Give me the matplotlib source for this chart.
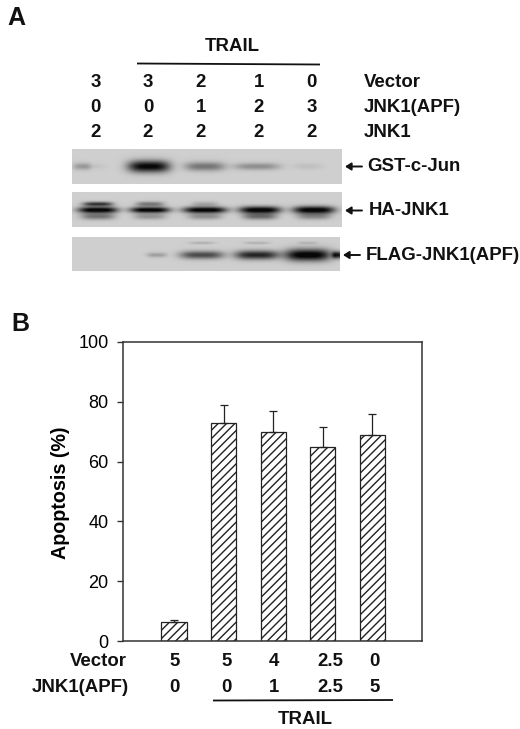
import numpy as np
import matplotlib
matplotlib.use("Agg")
import matplotlib.pyplot as plt

plt.rcParams['font.family'] = ['Liberation Sans', 'DejaVu Sans']
plt.rcParams['hatch.linewidth'] = 1.0

# panel B data
apoptosis = [6.5, 73, 70, 65, 69]
apoptosis_err = [0.5, 6, 7, 6.5, 7]
yticks = [0, 20, 40, 60, 80, 100]
vector_b = ['5', '5', '4', '2.5', '0']
apf_b = ['0', '0', '1', '2.5', '5']

# panel A data
vector_a = ['3', '3', '2', '1', '0']
apf_a = ['0', '0', '1', '2', '3']
jnk1_a = ['2', '2', '2', '2', '2']

# bands on each blot: lane centre, half width, offset from blot row, half height, darkness
gst_bands = [(82, 9, 0, 3.5, 0.22), (92, 14, 0, 3, 0.05), (149, 21, 0, 6, 0.95),
             (205, 20, 0, 4.5, 0.42), (257, 23, 0, 3.5, 0.30), (308, 15, 0, 3, 0.07)]
ha_bands = [(98, 15, -6, 2.2, 0.70), (98, 20, 0, 3.2, 1.0), (98, 17, 6.5, 3.2, 0.42),
            (150, 14, -6, 2.4, 0.40), (150, 20, 0, 3, 1.0), (150, 16, 6.5, 3, 0.28),
            (205, 13, -6, 2.4, 0.18), (205, 22, 0, 3.2, 1.0), (205, 17, 6.5, 3, 0.30),
            (260, 21, 0, 3.6, 1.0), (260, 17, 6.5, 3.2, 0.45),
            (314, 21, 0, 3.8, 1.0), (314, 17, 6.5, 3.2, 0.32)]
flag_bands = [(157, 10, 0, 2.4, 0.22), (202, 22, 0, 4, 0.62), (202, 13, -12, 1.4, 0.14),
              (257, 22, 0, 4.5, 0.80), (257, 13, -12, 1.4, 0.14),
              (308, 23, 0, 6, 1.0), (308, 10, -12, 1.4, 0.12), (338, 6, 0, 3.5, 0.8)]
blot_boxes = [(72, 342, 149, 184, 166.5), (72, 342, 192, 227, 210), (72, 340, 237, 271, 255)]
blots = [gst_bands, ha_bands, flag_bands]
blot_names = ['GST-c-Jun', 'HA-JNK1', 'FLAG-JNK1(APF)']


def blot_image(box, bands):
    x0, x1, y0, y1, row = box
    xs, ys = np.meshgrid(np.arange(x0, x1) + 0.5, np.arange(y0, y1) + 0.5)
    dark = np.zeros_like(xs)
    for cx, hw, off, hh, d in bands:
        dark += d * np.exp(-np.abs((xs - cx) / hw) ** 3.5 - ((ys - row - off) / hh) ** 2)
    return np.clip(0.81 - 0.84 * dark, 0.03, 1)


fig = plt.figure(figsize=(5.2, 7.29), dpi=100, facecolor='white')

# bar chart, placed by pixels
ax = fig.add_axes([123 / 520, 1 - 641 / 729, (422 - 123) / 520, (641 - 342) / 729])
x = np.arange(len(apoptosis))
ax.bar(x, apoptosis, width=0.51, facecolor='white', edgecolor='#222222', linewidth=0.9,
       hatch='////', yerr=[[0] * 5, apoptosis_err], capsize=3.2,
       error_kw={'ecolor': '#222222', 'elinewidth': 0.9, 'capthick': 0.9})
ax.set_xlim(-1.03, 5.0)
ax.set_ylim(0, 100)
ax.set_yticks(yticks)
ax.set_xticks([])
ax.tick_params(axis='y', length=4.3, width=1, pad=6, labelsize=13, color='#333333')
for s in ax.spines.values():
    s.set_color('#333333')
    s.set_linewidth(1.1)
ax.set_ylabel('Apoptosis (%)', fontsize=14.2, fontweight='bold')
ax.yaxis.set_label_coords(-0.177, 0.495)

# overlay in pixel coordinates for the annotations and blots
ov = fig.add_axes([0, 0, 1, 1], zorder=5)
ov.patch.set_alpha(0)
ov.axis('off')

for box, bands in zip(blot_boxes, blots):
    ov.imshow(blot_image(box, bands), cmap='gray', vmin=0, vmax=1, aspect='auto',
              extent=(box[0], box[1], box[3], box[2]), interpolation='bilinear')
ov.set_xlim(0, 520)
ov.set_ylim(729, 0)


def label(px, py, s, ha='center', size=13.4, **kw):
    ov.text(px, py, s, ha=ha, va='center', fontsize=size, fontweight='bold', color='#111111', **kw)


label(7, 18, 'A', ha='left', size=18)
label(11, 324, 'B', ha='left', size=18)

# panel A header
label(232, 46.5, 'TRAIL')
ov.plot([137, 320], [63.5, 64.5], color='#111111', lw=1.3, solid_capstyle='butt')
lanes_a = [95.5, 148, 201, 259, 311.5]
for py, vals, name in zip([82, 107.5, 132.5], [vector_a, apf_a, jnk1_a], ['Vector', 'JNK1(APF)', 'JNK1']):
    for lx, v in zip(lanes_a, vals):
        label(lx, py, v)
    label(364, py, name, ha='left')

# blot names and arrows
for name, py, tip, tx in zip(blot_names, [166.5, 210.5, 255], [345, 345, 343], [367, 369, 366]):
    label(tx, py, name, ha='left')
    ov.annotate('', xy=(tip, py), xytext=(tip + 17, py),
                arrowprops=dict(arrowstyle='-|>,head_length=0.35,head_width=0.22', color='#111111',
                                lw=1.4, shrinkA=0, shrinkB=0))

# panel B table under the bars
lanes_b = [174.5, 226.5, 274, 330, 374.5]
for py, vals, name, rx in zip([661.5, 687], [vector_b, apf_b], ['Vector', 'JNK1(APF)'], [127, 129]):
    label(rx, py, name, ha='right')
    for lx, v in zip(lanes_b, vals):
        label(lx, py, v)
ov.plot([213, 393], [700.5, 700], color='#111111', lw=1.3, solid_capstyle='butt')
label(305, 719, 'TRAIL')

fig.savefig('out.png', dpi=100, facecolor='white')
